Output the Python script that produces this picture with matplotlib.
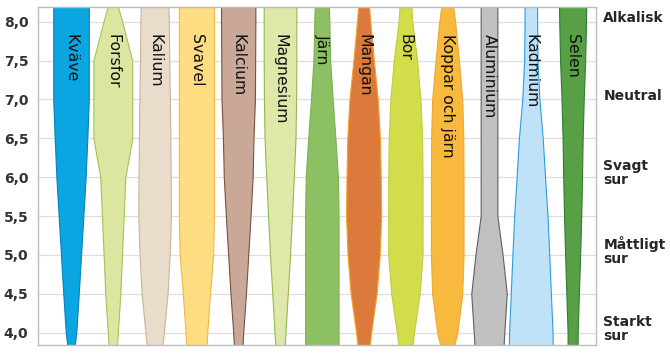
import matplotlib.pyplot as plt
import numpy as np

# pH levels where the width of each band is read (top to bottom)
ph_levels = [8.2, 8.0, 7.5, 7.0, 6.5, 6.0, 5.5, 5.0, 4.5, 4.0, 3.8]

elements = ["Kväve", "Forsfor", "Kalium", "Svavel", "Kalcium", "Magnesium", "Järn",
            "Mangan", "Bor", "Koppar och järn", "Aluminium", "Kadmium", "Selen"]

# relative availability (band width) at each pH level
kvave = [0.85, 0.85, 0.85, 0.85, 0.78, 0.70, 0.59, 0.48, 0.37, 0.25, 0.16]
forsfor = [0.24, 0.45, 0.93, 0.93, 0.93, 0.60, 0.52, 0.44, 0.36, 0.24, 0.19]
kalium = [0.66, 0.68, 0.70, 0.73, 0.75, 0.77, 0.78, 0.72, 0.62, 0.44, 0.36]
svavel = [0.84, 0.84, 0.84, 0.84, 0.84, 0.84, 0.84, 0.80, 0.65, 0.52, 0.48]
kalcium = [0.82, 0.82, 0.81, 0.80, 0.73, 0.69, 0.59, 0.48, 0.37, 0.24, 0.20]
magnesium = [0.78, 0.78, 0.78, 0.77, 0.74, 0.66, 0.57, 0.48, 0.37, 0.26, 0.22]
jarn = [0.34, 0.36, 0.40, 0.52, 0.65, 0.77, 0.80, 0.80, 0.80, 0.80, 0.80]
mangan = [0.26, 0.32, 0.49, 0.68, 0.78, 0.82, 0.84, 0.77, 0.62, 0.36, 0.28]
bor = [0.28, 0.33, 0.56, 0.72, 0.80, 0.82, 0.82, 0.82, 0.68, 0.41, 0.32]
koppar = [0.28, 0.38, 0.56, 0.72, 0.77, 0.78, 0.78, 0.78, 0.72, 0.48, 0.30]
aluminium = [0.40, 0.40, 0.40, 0.40, 0.40, 0.40, 0.40, 0.65, 0.85, 0.73, 0.69]
kadmium = [0.30, 0.30, 0.32, 0.41, 0.57, 0.68, 0.80, 0.88, 0.96, 1.04, 1.05]
selen = [0.65, 0.64, 0.60, 0.53, 0.48, 0.45, 0.41, 0.36, 0.30, 0.24, 0.24]

widths = [kvave, forsfor, kalium, svavel, kalcium, magnesium, jarn,
          mangan, bor, koppar, aluminium, kadmium, selen]

fills = ["#0aa6e2", "#dde6a0", "#e9dccb", "#fedc82", "#c9a898", "#dfe8a8", "#8cc063",
         "#dc7a3c", "#d3dc4b", "#f9b83e", "#c0c0c0", "#bfe2f8", "#58a045"]
edges = ["#0a7fb8", "#9cc658", "#c9b49c", "#f0b84a", "#7a5040", "#8fba50", "#7cb050",
         "#f2a32a", "#c2cc40", "#f0a830", "#606060", "#2a9de0", "#2e7d32"]

yticks = [4.0, 4.5, 5.0, 5.5, 6.0, 6.5, 7.0, 7.5, 8.0]
side_labels = ["Alkalisk", "Neutral", "Svagt\nsur", "Måttligt\nsur", "Starkt\nsur"]
side_ph = [8.0, 7.0, 6.0, 5.0, 4.0]

fig = plt.figure(figsize=(6.7, 3.54), dpi=100)
ax = fig.add_axes([0.0567, 0.0254, 0.8329, 0.9548])

ph = np.array(ph_levels)
for i, (name, w) in enumerate(zip(elements, widths)):
    half = np.array(w) / 2
    ax.fill_betweenx(ph, i - half, i + half, facecolor=fills[i],
                     edgecolor=edges[i], linewidth=0.8, zorder=2)
    ax.text(i, 7.84, name, rotation=-90, ha="center", va="top",
            fontsize=11.3, color="#111111", zorder=3)

ax.set_xlim(-0.79, 12.56)
ax.set_ylim(3.84, 8.19)
ax.set_xticks([])
ax.set_yticks(yticks)
ax.set_yticklabels([f"{v:.1f}".replace(".", ",") for v in yticks],
                   fontsize=10, fontweight="bold", color="#333333")
ax.tick_params(axis="y", length=0, pad=7)
ax.grid(axis="y", color="#dedede", linewidth=0.9, zorder=0)
ax.set_axisbelow(True)
for s in ax.spines.values():
    s.set_color("#bdbdbd")
    s.set_linewidth(1.0)

for lab, p in zip(side_labels, side_ph):
    ax.text(1.013, (p + 0.05 - 3.84) / (8.19 - 3.84), lab, transform=ax.transAxes,
            ha="left", va="center", fontsize=10, fontweight="bold",
            color="#262626", linespacing=1.0)

plt.savefig("out.png", dpi=100)
